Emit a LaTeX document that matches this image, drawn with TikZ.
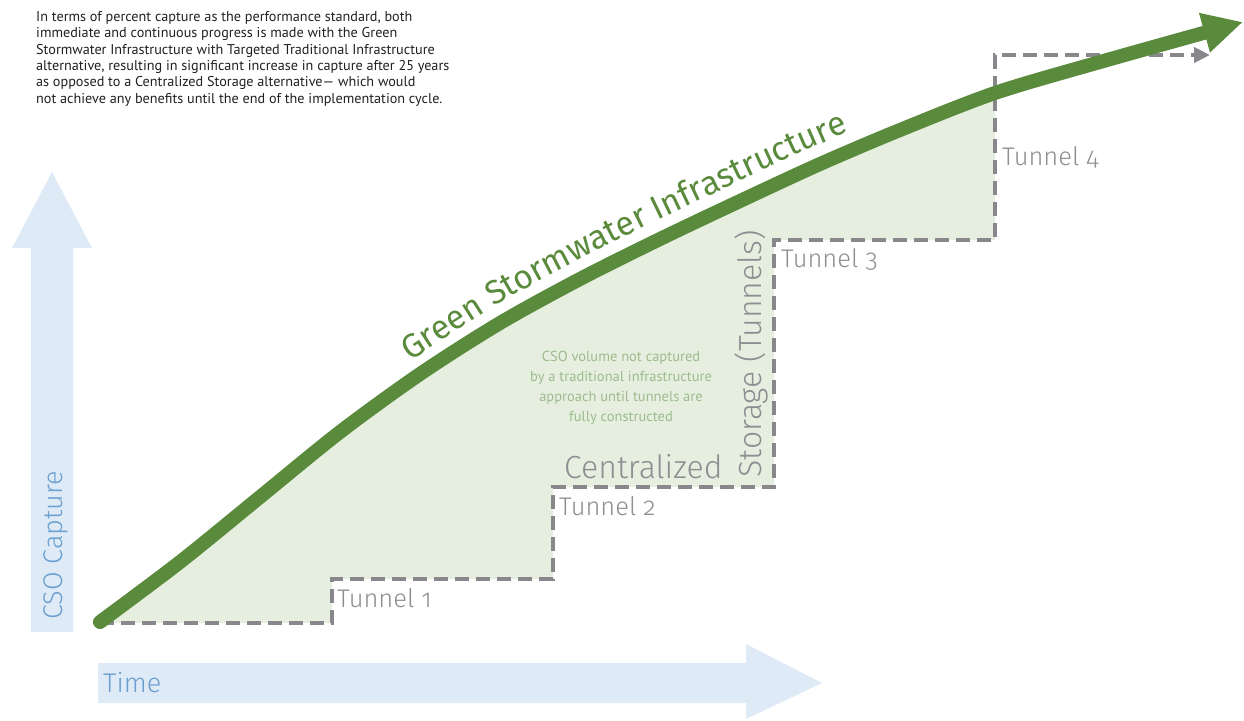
\documentclass[tikz,border=0pt]{standalone}
\usepackage{fontspec}
\setmainfont{PT Sans}
\newfontfamily\lightfont{Fira Sans Light}[Numbers=OldStyle]
\newfontfamily\firafont{Fira Sans}
\usetikzlibrary{arrows.meta,decorations.text}
\definecolor{axisblue}{HTML}{DEEBF7}
\definecolor{axislabel}{HTML}{6A9FD0}
\definecolor{areagreen}{HTML}{E6EFDF}
\definecolor{gsi}{HTML}{5A8A3B}
\definecolor{stairgray}{HTML}{88888C}
\definecolor{labelgray}{HTML}{8E8E92}
\definecolor{notegreen}{HTML}{9DBB8E}
\definecolor{bodytext}{HTML}{231F20}
\tikzset{
  axisarrow/.style={fill=axisblue, draw=none},
  axistext/.style={inner sep=0pt, text=axislabel, font=\lightfont\fontsize{27}{32}\selectfont},
  stairline/.style={draw=stairgray, line width=4pt, dash pattern=on 14pt off 7pt, -{Triangle[length=16pt,width=15pt]}},
  gsiline/.style={draw=gsi, line width=14pt, line cap=round, -{Triangle[length=40pt,width=38pt]}},
  tunnellabel/.style={inner sep=0pt, text=labelgray, font=\lightfont\fontsize{25.5}{30}\selectfont},
  biglabel/.style={inner sep=0pt, text=labelgray, font=\lightfont\fontsize{32}{38}\selectfont},
  notetext/.style={inner sep=0pt, text=notegreen, align=center, font=\fontsize{14.5}{20}\selectfont},
  headtext/.style={inner sep=0pt, text=bodytext, align=left, font=\fontsize{14.2}{16.4}\selectfont}
}
\begin{document}
\begin{tikzpicture}[x=1pt,y=-1pt]
\useasboundingbox (0,0) rectangle (1244,720);
% axes
\fill[axisarrow] (31,632) -- (31,248) -- (12,248) -- (52,172) -- (92,248) -- (73,248) -- (73,632) -- cycle;
\fill[axisarrow] (98,663) -- (746,663) -- (746,644) -- (822,683) -- (746,719) -- (746,703) -- (98,703) -- cycle;
\node[axistext, rotate=90, anchor=base west] (ylab) at (62,620) {CSO Capture};
\node[axistext, anchor=base west] (xlab) at (103,692) {Time};
% area
\fill[areagreen] plot[smooth] coordinates {(100,622) (180,562) (260,497) (340,432) (420,374) (500,323) (580,279) (660,239) (740,201) (820,164) (900,130) (995,93)}
  -- (995,240) -- (774,240) -- (774,487) -- (553,487) -- (553,579) -- (332,579) -- (332,623) -- (100,623) -- cycle;
% staircase
\coordinate (s0) at (100,623);
\coordinate (s1) at (332,623);
\coordinate (s2) at (332,579);
\coordinate (s3) at (553,579);
\coordinate (s4) at (553,487);
\coordinate (s5) at (774,487);
\coordinate (s6) at (774,240);
\coordinate (s7) at (995,240);
\coordinate (s8) at (995,55);
\coordinate (s9) at (1210,55);
\draw[stairline] (s0) -- (s1) -- (s2) -- (s3) -- (s4) -- (s5) -- (s6) -- (s7) -- (s8) -- (s9);
% green curve
\draw[gsiline] plot[smooth] coordinates {(100,622) (180,562) (260,497) (340,432) (420,374) (500,323) (580,279) (660,239) (740,201) (820,164) (900,130) (995,93) (1100,62) (1243,22)};
\path[decorate, decoration={text along path, text align=left,
  text={|\firafont\fontsize{33.5}{40}\selectfont\color{gsi}|Green Stormwater Infrastructure}}]
  (410,361) -- (450,335) -- (500,303) -- (550,275) -- (600,249) -- (650,224) -- (700,200) -- (750,176) -- (800,153) -- (850,131) -- (900,110);
% labels
\node[tunnellabel, anchor=base west] (t1) at (337,607) {Tunnel 1};
\node[tunnellabel, anchor=base west] (t2) at (559,515) {Tunnel 2};
\node[tunnellabel, anchor=base west] (t3) at (781,267) {Tunnel 3};
\node[tunnellabel, anchor=base west] (t4) at (1002,165) {Tunnel 4};
\node[biglabel, anchor=base west] (cent) at (564,478) {Centralized};
\node[biglabel, rotate=90, anchor=base west] (stor) at (761,478) {Storage (Tunnels)};
\node[notetext] (note) at (621,388) {CSO volume not captured\\by a traditional infrastructure\\approach until tunnels are\\fully constructed};
\node[headtext, anchor=north west] (head) at (36,11) {In terms of percent capture as the performance standard, both\\immediate and continuous progress is made with the Green\\Stormwater Infrastructure with Targeted Traditional Infrastructure\\alternative, resulting in significant increase in capture after 25 years\\as opposed to a Centralized Storage alternative--- which would\\not achieve any benefits until the end of the implementation cycle.};
\end{tikzpicture}
\end{document}
